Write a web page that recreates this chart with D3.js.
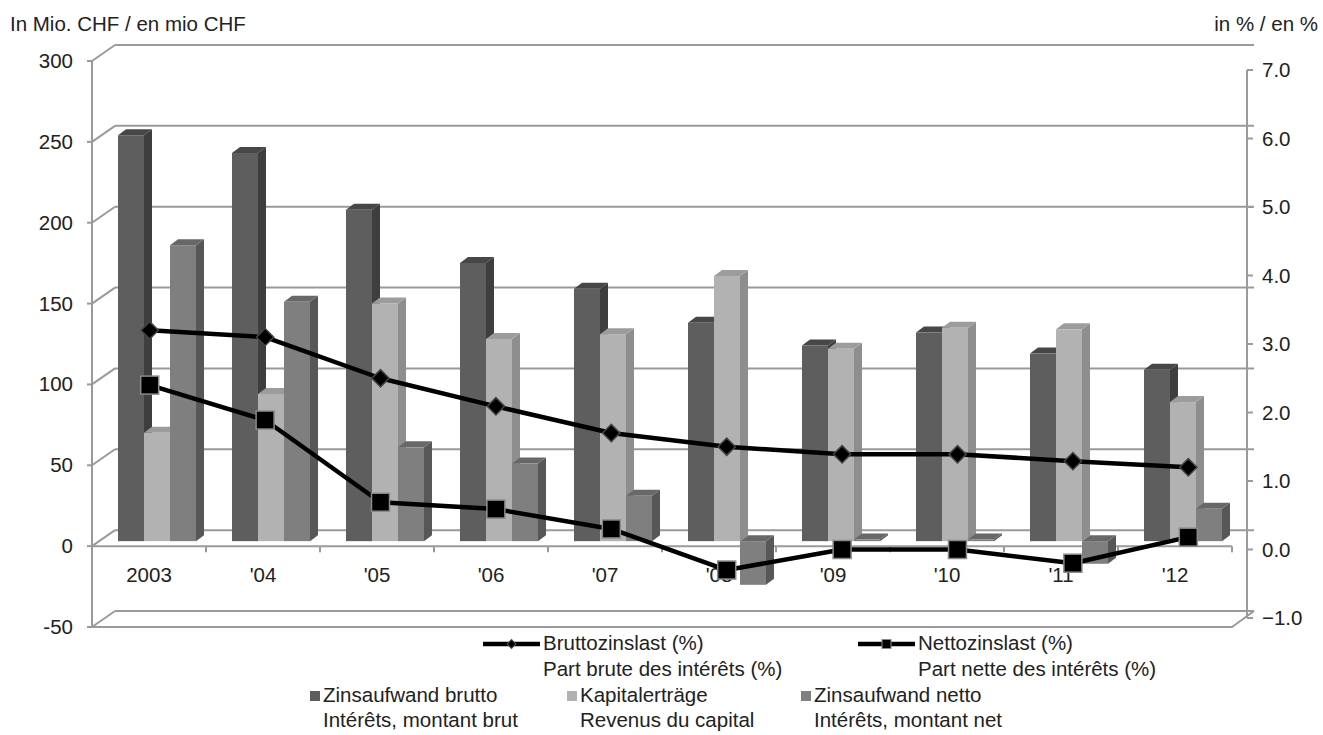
<!DOCTYPE html>
<html>
<head>
<meta charset="utf-8">
<script src="https://cdn.jsdelivr.net/npm/d3@7"></script>
<style>
  html, body { margin: 0; padding: 0; background: #ffffff; }
  svg { display: block; }
  text { font-family: "Liberation Sans", Arial, sans-serif; fill: #222222; }
</style>
</head>
<body>
<svg id="chart" width="1323" height="735"></svg>
<script>
// ---------- data ----------
const categories = ["2003", "'04", "'05", "'06", "'07", "'08", "'09", "'10", "'11", "'12"];
const zinsaufwandBrutto = [251, 240, 205, 172, 156, 135, 121, 129, 116, 106];
const kapitalertraege   = [67, 91, 147, 125, 128, 164, 119, 132, 131, 86];
const zinsaufwandNetto  = [183, 148, 58, 48, 28, -27, 1, 1, -14, 20];
const bruttozinslast = [3.20, 3.10, 2.50, 2.09, 1.70, 1.50, 1.39, 1.39, 1.29, 1.20];
const nettozinslast  = [2.40, 1.89, 0.69, 0.59, 0.30, -0.30, 0.00, 0.00, -0.20, 0.18];
const leftTicks  = [-50, 0, 50, 100, 150, 200, 250, 300];
const rightTicks = [-1, 0, 1, 2, 3, 4, 5, 6, 7];
const barSeries = ["Zinsaufwand brutto", "Kapitalerträge", "Zinsaufwand netto"];
const barSeriesFr = ["Intérêts, montant brut", "Revenus du capital", "Intérêts, montant net"];
const lineSeries = ["Bruttozinslast (%)", "Nettozinslast (%)"];
const lineSeriesFr = ["Part brute des intérêts (%)", "Part nette des intérêts (%)"];

// ---------- styles ----------
const FS = 20.5;
const barColors = [
  {front: "#5e5e5e", side: "#3e3e3e", top: "#474747"},
  {front: "#b2b2b2", side: "#8e8e8e", top: "#9c9c9c"},
  {front: "#7f7f7f", side: "#575757", top: "#686868"}
];
const gridColor = "#9a9a9a";
const depthDx = 23, depthDy = -16;      // wall depth
const barDx = 8, barDy = -6;            // bar depth
const barShiftX = 8, barShiftY = -5;    // bar plane offset from front plane

const svg = d3.select("#chart");

// ---------- scales ----------
const x = d3.scaleBand().domain(categories).range([92, 1232]).paddingInner(0).paddingOuter(0);
const xs = d3.scaleBand().domain(barSeries).range([18, 96]);
const xLine = d3.scaleBand().domain(categories).range([92, 1246]);
const yL = d3.scaleLinear().domain([-50, 300]).range([627, 61]);
const yR = d3.scaleLinear().domain([-1, 7]).range([618, 70]);

const xL = 92, xR = 1232;

// ---------- walls / gridlines ----------
const g = svg.append("g");
g.selectAll("line.back").data(leftTicks).join("line")
  .attr("x1", xL + depthDx).attr("x2", xR + depthDx - 1)
  .attr("y1", d => yL(d) + depthDy).attr("y2", d => yL(d) + depthDy)
  .attr("stroke", gridColor).attr("stroke-width", 2);
g.selectAll("line.side").data(leftTicks).join("line")
  .attr("x1", xL).attr("x2", xL + depthDx)
  .attr("y1", d => yL(d)).attr("y2", d => yL(d) + depthDy)
  .attr("stroke", gridColor).attr("stroke-width", 2);
g.append("path")
  .attr("d", `M${xL},${yL(-50)}L${xR},${yL(-50)}L${xR + depthDx - 1},${yL(-50) + depthDy}`)
  .attr("fill", "none").attr("stroke", gridColor).attr("stroke-width", 2);
g.append("line").attr("x1", xL).attr("x2", xL).attr("y1", yL(300)).attr("y2", yL(-50))
  .attr("stroke", gridColor).attr("stroke-width", 2);
g.selectAll("line.ltick").data(leftTicks).join("line")
  .attr("x1", xL - 5).attr("x2", xL).attr("y1", d => yL(d)).attr("y2", d => yL(d))
  .attr("stroke", gridColor).attr("stroke-width", 2);
g.selectAll("text.ltick").data(leftTicks).join("text")
  .attr("x", 73).attr("y", d => yL(d) + 7)
  .attr("text-anchor", "end").attr("font-size", FS)
  .text(d => d);

// category axis at zero (front)
g.append("line").attr("x1", xL).attr("x2", xR).attr("y1", yL(0)).attr("y2", yL(0))
  .attr("stroke", gridColor).attr("stroke-width", 2);
g.selectAll("line.ctick").data(d3.range(categories.length + 1)).join("line")
  .attr("x1", i => xL + i * x.bandwidth()).attr("x2", i => xL + i * x.bandwidth())
  .attr("y1", yL(0)).attr("y2", yL(0) + 6)
  .attr("stroke", gridColor).attr("stroke-width", 2);
g.selectAll("text.cat").data(categories).join("text")
  .attr("x", d => x(d) + x.bandwidth() / 2).attr("y", yL(0) + 36)
  .attr("text-anchor", "middle").attr("font-size", FS)
  .text(d => d);

// ---------- 3D bars ----------
const barData = [];
categories.forEach((c, i) => {
  [zinsaufwandBrutto, kapitalertraege, zinsaufwandNetto].forEach((arr, s) => {
    barData.push({cat: c, s: s, v: arr[i]});
  });
});
const bw = xs.bandwidth();
const bars = svg.append("g").selectAll("g.bar").data(barData).join("g");
bars.each(function(d) {
  const gg = d3.select(this);
  const x0 = x(d.cat) + xs(barSeries[d.s]) + barShiftX;
  const yTop = yL(Math.max(d.v, 0)) + barShiftY;
  const yBot = yL(Math.min(d.v, 0)) + barShiftY;
  const col = barColors[d.s];
  gg.append("path")
    .attr("d", `M${x0 + bw},${yTop}L${x0 + bw + barDx},${yTop + barDy}L${x0 + bw + barDx},${yBot + barDy}L${x0 + bw},${yBot}Z`)
    .attr("fill", col.side);
  gg.append("path")
    .attr("d", `M${x0},${yTop}L${x0 + barDx},${yTop + barDy}L${x0 + bw + barDx},${yTop + barDy}L${x0 + bw},${yTop}Z`)
    .attr("fill", col.top);
  gg.append("rect")
    .attr("x", x0).attr("y", yTop).attr("width", bw).attr("height", Math.max(yBot - yTop, 0.5))
    .attr("fill", col.front);
});

// ---------- lines ----------
const cx = (i) => xLine(categories[i]) + xLine.bandwidth() / 2;
const lineGen = d3.line().x((d, i) => cx(i)).y(d => yR(d));
const lg = svg.append("g");
[bruttozinslast, nettozinslast].forEach(arr => {
  lg.append("path").datum(arr).attr("d", lineGen)
    .attr("fill", "none").attr("stroke", "#000").attr("stroke-width", 4.5).attr("stroke-linejoin", "round");
});
lg.selectAll("path.dia").data(bruttozinslast).join("path")
  .attr("d", d3.symbol().type(d3.symbolSquare).size(150))
  .attr("transform", (d, i) => `translate(${cx(i)},${yR(d)}) rotate(45)`)
  .attr("fill", "#000").attr("stroke", "#444").attr("stroke-width", 1.5);
lg.selectAll("rect.sq").data(nettozinslast).join("rect")
  .attr("x", (d, i) => cx(i) - 9)
  .attr("y", d => yR(d) - 9)
  .attr("width", 18).attr("height", 18)
  .attr("fill", "#000").attr("stroke", "#8a8a8a").attr("stroke-width", 1.5);

// ---------- right axis ----------
const rx = 1247;
svg.append("line").attr("x1", rx).attr("x2", rx).attr("y1", yR(7)).attr("y2", yR(-1))
  .attr("stroke", gridColor).attr("stroke-width", 2);
svg.selectAll("line.rtick").data(rightTicks).join("line")
  .attr("x1", rx).attr("x2", rx + 6).attr("y1", d => yR(d)).attr("y2", d => yR(d))
  .attr("stroke", gridColor).attr("stroke-width", 2);
svg.selectAll("text.rtick").data(rightTicks).join("text")
  .attr("x", 1262).attr("y", d => yR(d) + 7)
  .attr("font-size", FS)
  .text(d => d3.format(".1f")(d));

// ---------- axis titles ----------
svg.append("text").attr("x", 10).attr("y", 31).attr("font-size", FS).text("In Mio. CHF / en mio CHF");
svg.append("text").attr("x", 1318).attr("y", 31).attr("font-size", FS).attr("text-anchor", "end").text("in % / en %");

// ---------- legend ----------
const leg = svg.append("g");
const lineLegX = [483, 858];
lineSeries.forEach((name, i) => {
  const lx = lineLegX[i];
  leg.append("line").attr("x1", lx).attr("x2", lx + 57).attr("y1", 644).attr("y2", 644)
    .attr("stroke", "#000").attr("stroke-width", 4.5);
  if (i === 0) {
    leg.append("path").attr("d", d3.symbol().type(d3.symbolSquare).size(40))
      .attr("transform", `translate(${lx + 28.5},644) rotate(45)`)
      .attr("fill", "#000").attr("stroke", "#555").attr("stroke-width", 1);
  } else {
    leg.append("rect").attr("x", lx + 24).attr("y", 639.5).attr("width", 9).attr("height", 9)
      .attr("fill", "#000").attr("stroke", "#8a8a8a").attr("stroke-width", 1);
  }
  leg.append("text").attr("x", lx + 60).attr("y", 650).attr("font-size", FS).text(name);
  leg.append("text").attr("x", lx + 60).attr("y", 676).attr("font-size", FS).text(lineSeriesFr[i]);
});
const barLegX = [310, 567, 801];
barSeries.forEach((name, i) => {
  const lx = barLegX[i];
  leg.append("rect").attr("x", lx).attr("y", 691).attr("width", 10).attr("height", 10)
    .attr("fill", barColors[i].front);
  leg.append("text").attr("x", lx + 13).attr("y", 702).attr("font-size", FS).text(name);
  leg.append("text").attr("x", lx + 13).attr("y", 727).attr("font-size", FS).text(barSeriesFr[i]);
});
</script>
</body>
</html>
